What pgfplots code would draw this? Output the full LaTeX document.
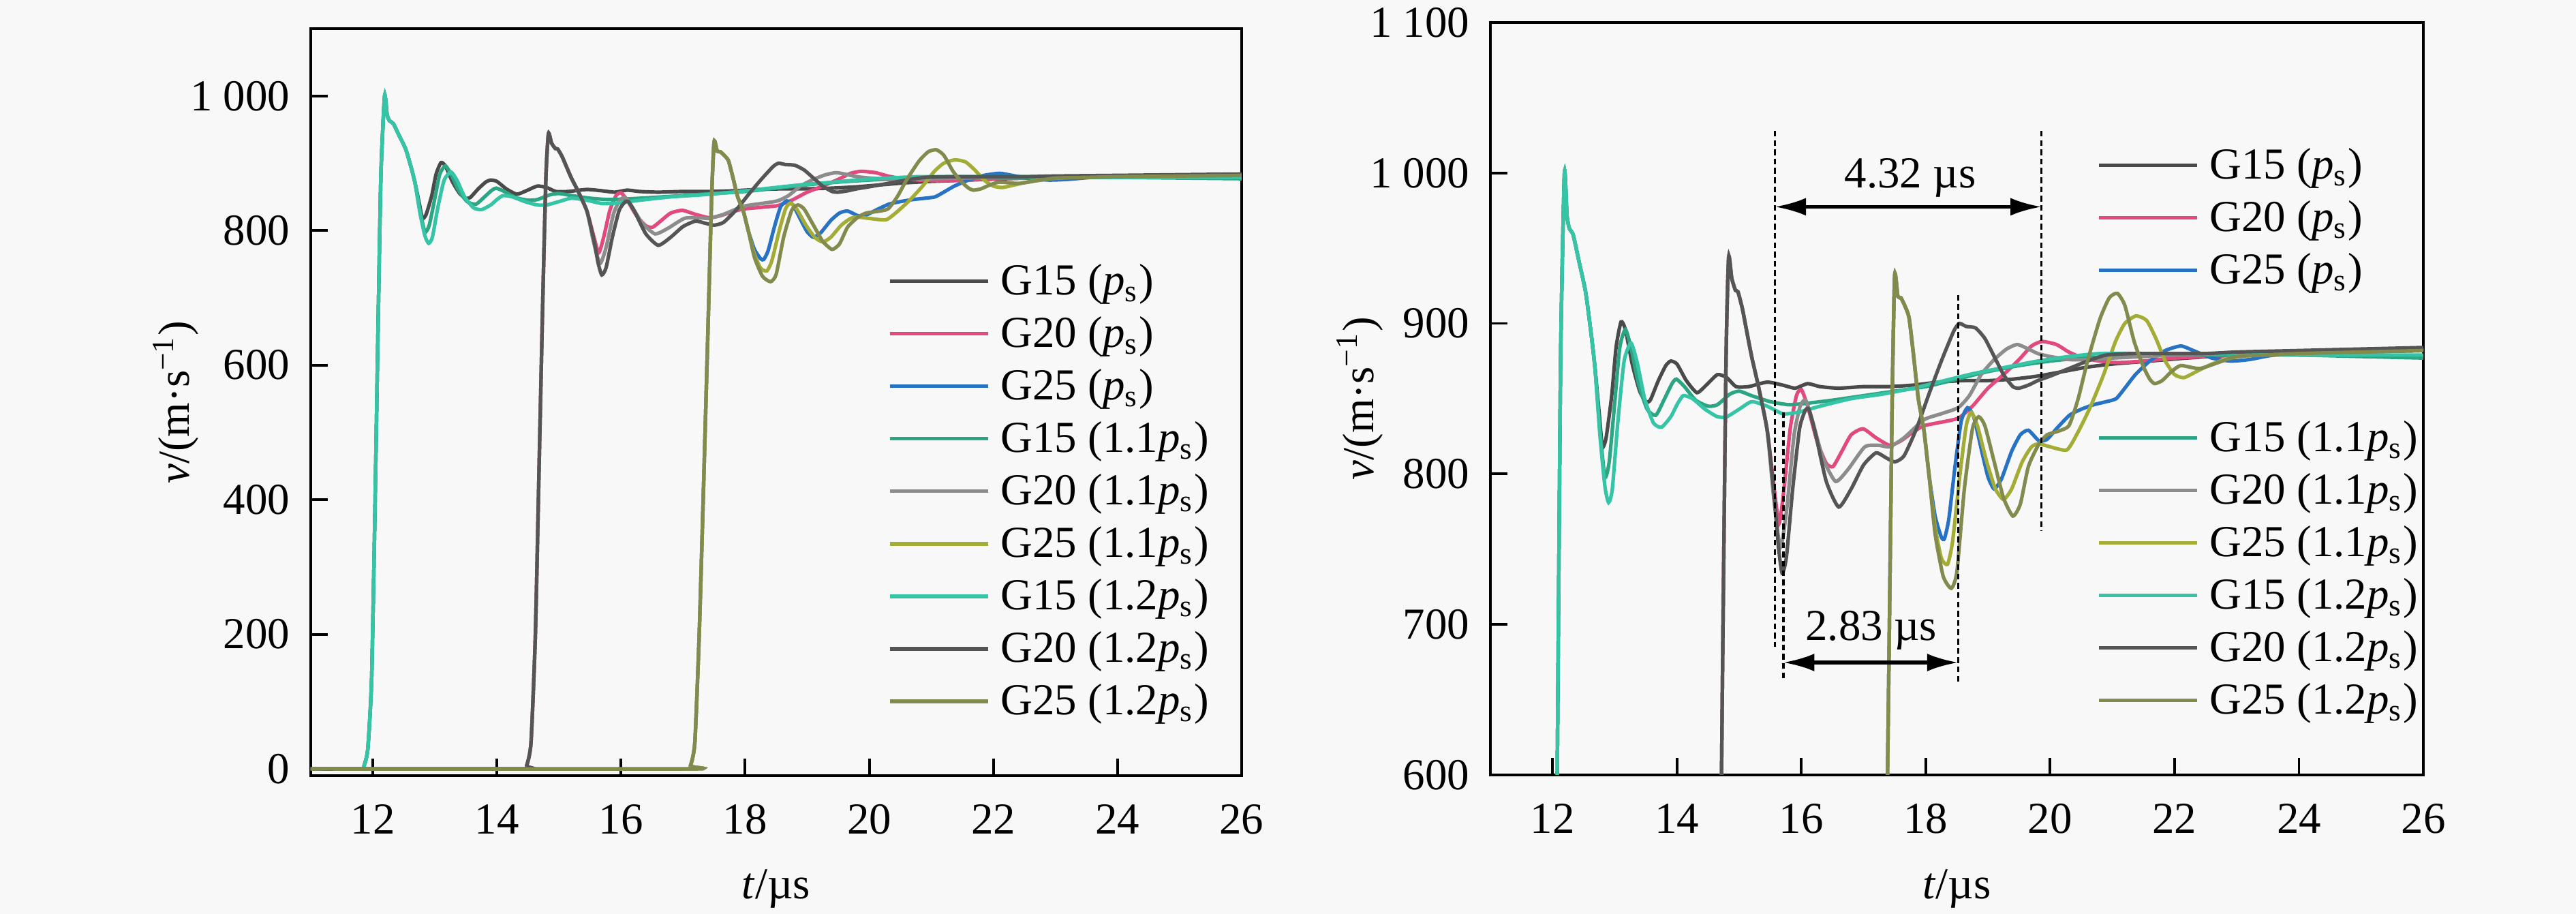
\documentclass[border=0pt]{standalone}
\usepackage{fontspec}
\setmainfont{Liberation Serif}
\usepackage{pgfplots}
\usepackage{pgfplotstable}
\pgfplotsset{compat=1.18}
\usetikzlibrary{arrows.meta}

\definecolor{cA}{HTML}{4A4A4A}
\definecolor{cB}{HTML}{E2497E}
\definecolor{cC}{HTML}{2872C6}
\definecolor{cD}{HTML}{2BA583}
\definecolor{cE}{HTML}{8C8C8C}
\definecolor{cF}{HTML}{A3AC35}
\definecolor{cG}{HTML}{35C4A6}
\definecolor{cH}{HTML}{555555}
\definecolor{cI}{HTML}{838A4E}
\definecolor{bg}{HTML}{F8F8F8}

% G15 (ps)
\pgfplotstableread{
t v
11 0
11.80 0
11.86 5
11.92 30
11.98 130
12.03 360
12.08 630
12.13 880
12.19 1000
12.23 972
12.27 963
12.33 959
12.42 942
12.53 921
12.62 893
12.68 871
12.75 840
12.80 818
12.86 824
12.95 852
13.02 884
13.10 901
13.17 896
13.28 873
13.40 855
13.50 848
13.57 849
13.70 862
13.82 872
13.90 875
14.00 873
14.15 862
14.32 854
14.47 859
14.65 866
14.80 864
14.95 858
15.15 858
15.45 861
15.70 859
15.90 857
16.10 860
16.30 858
16.60 857
17.00 858
17.40 858
17.80 859
18.20 861
18.60 862
19.00 862
19.40 863
19.80 865
20.20 868
20.60 871
21.00 873
21.60 875
22.20 877
23.00 879
24.00 880
25.00 882
26.00 883
}\tA

% G15 (1.1ps)
\pgfplotstableread{
t v
11 0
11.80 0
11.86 5
11.92 30
11.98 130
12.03 360
12.08 630
12.13 880
12.19 1000
12.23 972
12.27 963
12.33 959
12.42 942
12.53 921
12.62 893
12.68 871
12.76 830
12.84 798
12.91 808
13.00 848
13.08 884
13.17 896
13.26 884
13.38 860
13.52 843
13.66 839
13.80 850
13.92 860
13.99 863
14.12 858
14.30 849
14.50 845
14.65 846
14.85 853
15.00 855
15.20 852
15.50 848
15.80 846
16.10 847
16.50 849
17.00 852
17.50 855
18.00 858
18.50 863
19.00 868
19.50 872
20.00 875
20.50 877
21.00 878
21.50 879
22.00 879
23.00 879
24.00 879
25.00 878
26.00 877
}\tD

% G15 (1.2ps)
\pgfplotstableread{
t v
11 0
11.80 0
11.86 5
11.92 30
11.98 130
12.03 360
12.08 630
12.13 880
12.19 1000
12.23 972
12.27 963
12.33 959
12.42 942
12.53 921
12.62 893
12.68 871
12.76 826
12.84 792
12.90 781
12.96 790
13.05 835
13.15 875
13.26 887
13.36 874
13.48 850
13.62 834
13.75 831
13.90 838
14.00 846
14.10 852
14.25 850
14.45 843
14.65 838
14.80 838
15.00 843
15.20 848
15.45 845
15.70 840
15.95 841
16.30 845
16.80 850
17.30 853
17.80 857
18.30 862
18.80 867
19.30 871
19.80 875
20.30 878
20.80 880
21.50 880
22.20 880
23.00 880
24.00 879
25.00 879
26.00 879
}\tG

% G20 (ps)
\pgfplotstableread{
t v
11 0
14.42 0
14.48 5
14.55 40
14.62 200
14.68 450
14.74 700
14.79 880
14.83 944
14.88 930
14.94 922
14.98 921
15.05 910
15.12 895
15.20 878
15.31 858
15.45 829
15.55 795
15.64 767
15.72 790
15.82 830
15.92 852
16.00 856
16.10 845
16.25 822
16.40 807
16.51 805
16.65 815
16.80 826
16.99 830
17.20 824
17.42 819
17.60 822
17.80 828
17.97 832
18.20 834
18.52 837
18.75 845
19.00 857
19.25 866
19.50 876
19.70 885
19.87 888
20.10 886
20.30 881
20.53 877
20.80 875
21.10 874
21.50 875
22.00 877
22.50 878
23.00 879
24.00 880
25.00 881
26.00 882
}\tB

% G20 (1.1ps)
\pgfplotstableread{
t v
11 0
14.42 0
14.48 5
14.55 40
14.62 200
14.68 450
14.74 700
14.79 880
14.83 944
14.88 930
14.94 922
14.98 921
15.05 910
15.12 895
15.20 878
15.31 858
15.45 829
15.55 786
15.66 751
15.76 775
15.88 825
15.98 845
16.07 849
16.18 835
16.35 810
16.55 795
16.75 803
17.02 818
17.25 819
17.42 818
17.65 824
17.97 836
18.25 840
18.52 844
18.70 852
18.89 866
19.10 876
19.30 883
19.47 886
19.65 883
19.80 880
20.00 878
20.30 876
20.60 876
21.00 877
21.50 878
22.00 879
23.00 880
24.00 881
25.00 882
26.00 883
}\tE

% G20 (1.2ps)
\pgfplotstableread{
t v
11 0
14.42 0
14.48 5
14.55 40
14.62 200
14.68 450
14.74 700
14.79 880
14.83 944
14.88 930
14.94 922
14.98 921
15.05 910
15.12 895
15.20 878
15.31 858
15.45 829
15.56 787
15.63 752
15.69 734
15.76 745
15.86 790
15.97 830
16.06 842
16.12 843
16.22 828
16.40 795
16.60 778
16.80 790
17.00 806
17.20 814
17.35 811
17.50 808
17.65 812
17.85 830
18.05 853
18.25 875
18.45 895
18.54 900
18.65 898
18.80 897
18.95 890
19.10 878
19.25 866
19.40 858
19.50 857
19.65 859
19.80 862
20.00 865
20.30 870
20.60 875
20.90 879
21.30 880
21.80 880
22.50 880
23.00 881
24.00 882
25.00 883
26.00 884
}\tH

% G25 (ps)
\pgfplotstableread{
t v
11 0
17.05 0
17.12 5
17.19 40
17.26 200
17.33 420
17.40 650
17.46 850
17.50 932
17.55 918
17.60 917
17.66 912
17.73 904
17.80 880
17.88 850
17.97 829
18.05 800
18.15 772
18.25 758
18.30 757
18.37 770
18.47 805
18.57 835
18.67 844
18.77 838
18.90 815
19.00 798
19.10 790
19.22 797
19.38 815
19.52 826
19.65 829
19.82 822
19.95 823
20.10 830
20.31 839
20.50 843
20.70 846
20.90 848
21.06 850
21.20 857
21.37 866
21.60 875
21.85 882
22.10 885
22.30 882
22.60 877
22.90 875
23.20 876
23.60 879
24.20 880
25.00 881
26.00 882
}\tC

% G25 (1.1ps)
\pgfplotstableread{
t v
11 0
17.05 0
17.12 5
17.19 40
17.26 200
17.33 420
17.40 650
17.46 850
17.50 932
17.55 918
17.60 917
17.66 912
17.73 904
17.80 880
17.88 850
17.97 829
18.05 800
18.15 765
18.25 744
18.35 740
18.43 755
18.55 800
18.65 832
18.73 841
18.83 832
18.98 808
19.12 790
19.25 783
19.38 790
19.55 808
19.70 818
19.82 820
20.00 818
20.27 816
20.45 828
20.64 844
20.85 865
21.05 888
21.20 900
21.38 905
21.55 902
21.70 890
21.85 875
22.00 866
22.15 864
22.35 868
22.60 873
22.90 877
23.30 879
24.00 880
25.00 881
26.00 883
}\tF

% G25 (1.2ps)
\pgfplotstableread{
t v
11 0
17.05 0
17.12 5
17.19 40
17.26 200
17.33 420
17.40 650
17.46 850
17.50 932
17.55 918
17.60 917
17.66 912
17.73 904
17.80 880
17.88 850
17.97 829
18.05 800
18.15 760
18.28 732
18.41 724
18.50 735
18.62 790
18.75 830
18.85 838
18.95 832
19.10 808
19.25 784
19.40 772
19.52 780
19.65 805
19.82 820
19.95 826
20.10 828
20.30 832
20.45 850
20.60 875
20.80 903
20.95 917
21.08 920
21.20 912
21.35 888
21.49 872
21.60 863
21.68 860
21.80 862
21.95 868
22.10 872
22.40 870
22.70 874
23.00 878
23.50 879
24.00 880
25.00 881
26.00 882
}\tI

\tikzset{dl/.style={black, line width=0.5pt, dash pattern=on 1.3pt off 0.8pt}}

\pgfplotsset{
  base/.style={
    scale only axis,
    axis line style={line width=0.6pt, black},
    every tick/.style={line width=0.6pt, black},
    tick align=inside, tick pos=left, major tick length=3.85pt,
    xmin=11, xmax=26, xtick={12,14,...,26},
    /pgf/number format/assume math mode=true,
    tick label style={font=\fontsize{10}{12}\selectfont},
    xticklabel style={yshift=-3pt},
    yticklabel style={xshift=-1.2pt},
    label style={font=\fontsize{10}{12}\selectfont},
    xlabel={\textit{t}/µs},
    ylabel={\textit{v}/(m·s\textsuperscript{−1})},
    legend image code/.code={\draw[#1] (0pt,0pt) -- (22.3pt,0pt);},
    legend cell align=left,
    legend style={draw=none, fill=none, inner sep=0pt, outer sep=0pt,
      row sep=0pt, column sep=2.4pt, anchor=north west,
      nodes={inner sep=0pt, outer sep=0pt, text height=9.0pt, text depth=2.86pt,
        font=\fontsize{10}{12}\selectfont}},
    every axis plot/.append style={line width=0.8pt, smooth, tension=0.35},
  },
}

\begin{document}
\begin{tikzpicture}
\path[use as bounding box, fill=bg] (0pt,0pt) rectangle (582.12pt,206.51pt);

% ---------------- left panel ----------------
\begin{axis}[base, at={(70.22pt,31.26pt)}, anchor=south west,
  width=210.36pt, height=168.78pt,
  ymin=-10, ymax=1100, ytick={0,200,...,1000},
  yticklabels={0,200,400,600,800,1 000},
  xlabel style={at={(axis description cs:0.5,-0.1515)}, anchor=center},
  ylabel style={at={(axis description cs:-0.145,0.5)}, anchor=center},
  legend style={at={(axis description cs:0.6201,0.6968)}}]
  \addplot[cA] table {\tA}; \addlegendentry{G15 (\textit{p}\textsubscript{s})}
  \addplot[cB] table {\tB}; \addlegendentry{G20 (\textit{p}\textsubscript{s})}
  \addplot[cC] table {\tC}; \addlegendentry{G25 (\textit{p}\textsubscript{s})}
  \addplot[cD] table {\tD}; \addlegendentry{G15 (1.1\textit{p}\textsubscript{s})}
  \addplot[cE] table {\tE}; \addlegendentry{G20 (1.1\textit{p}\textsubscript{s})}
  \addplot[cF] table {\tF}; \addlegendentry{G25 (1.1\textit{p}\textsubscript{s})}
  \addplot[cG] table {\tG}; \addlegendentry{G15 (1.2\textit{p}\textsubscript{s})}
  \addplot[cH] table {\tH}; \addlegendentry{G20 (1.2\textit{p}\textsubscript{s})}
  \addplot[cI] table {\tI}; \addlegendentry{G25 (1.2\textit{p}\textsubscript{s})}
\end{axis}

% ---------------- right panel ----------------
\begin{axis}[base, at={(336.80pt,31.42pt)}, anchor=south west,
  width=210.83pt, height=170.02pt,
  ymin=600, ymax=1100, ytick={600,700,...,1100},
  yticklabels={600,700,800,900,1 000,1 100},
  xlabel style={at={(axis description cs:0.5,-0.1513)}, anchor=center},
  ylabel style={at={(axis description cs:-0.140,0.5)}, anchor=center},
  legend style={at={(axis description cs:0.6501,0.8448)}}]
  \addplot[cA] table {\tA}; \addlegendentry{G15 (\textit{p}\textsubscript{s})}
  \addplot[cB] table {\tB}; \addlegendentry{G20 (\textit{p}\textsubscript{s})}
  \addplot[cC] table {\tC}; \addlegendentry{G25 (\textit{p}\textsubscript{s})}
  \addplot[cD, forget plot] table {\tD};
  \addplot[cE, forget plot] table {\tE};
  \addplot[cF, forget plot] table {\tF};
  \addplot[cG, forget plot] table {\tG};
  \addplot[cH, forget plot] table {\tH};
  \addplot[cI, forget plot] table {\tI};
  \draw[dl] (15.575,1028) -- (15.575,685);
  \draw[dl] (19.86,1028) -- (19.86,762);
  \draw[dl] (15.71,841) -- (15.71,662);
  \draw[dl] (18.52,919) -- (18.52,662);
  \draw[line width=0.8pt, {Latex[length=7pt,width=4pt]}-{Latex[length=7pt,width=4pt]}]
    (15.575,977.5) -- (19.86,977.5);
  \draw[line width=0.8pt, {Latex[length=7pt,width=4pt]}-{Latex[length=7pt,width=4pt]}]
    (15.71,674.7) -- (18.52,674.7);
  \node[font=\fontsize{10}{12}\selectfont] at (17.75,996.8) {4.32 µs};
  \node[font=\fontsize{10}{12}\selectfont] at (17.12,696) {2.83 µs};
\end{axis}

\begin{axis}[base, hide axis, at={(336.80pt,31.42pt)}, anchor=south west,
  width=210.83pt, height=170.02pt,
  ymin=600, ymax=1100,
  legend style={at={(axis description cs:0.6501,0.4825)}}]
  \addlegendimage{cD, line width=0.8pt} \addlegendentry{G15 (1.1\textit{p}\textsubscript{s})}
  \addlegendimage{cE, line width=0.8pt} \addlegendentry{G20 (1.1\textit{p}\textsubscript{s})}
  \addlegendimage{cF, line width=0.8pt} \addlegendentry{G25 (1.1\textit{p}\textsubscript{s})}
  \addlegendimage{cG, line width=0.8pt} \addlegendentry{G15 (1.2\textit{p}\textsubscript{s})}
  \addlegendimage{cH, line width=0.8pt} \addlegendentry{G20 (1.2\textit{p}\textsubscript{s})}
  \addlegendimage{cI, line width=0.8pt} \addlegendentry{G25 (1.2\textit{p}\textsubscript{s})}
\end{axis}
\end{tikzpicture}
\end{document}
